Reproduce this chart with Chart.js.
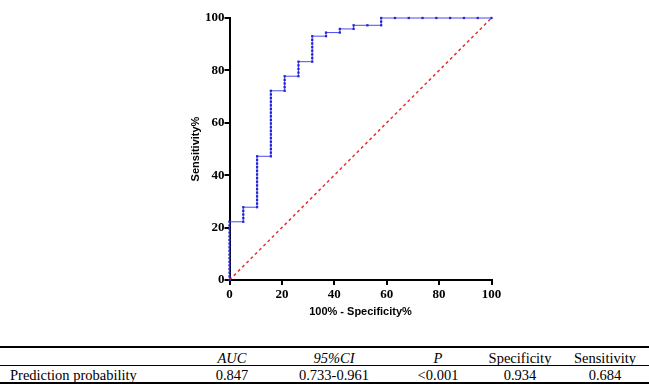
<!DOCTYPE html>
<html>
<head>
<meta charset="utf-8">
<script src="https://cdn.jsdelivr.net/npm/chart.js@4/dist/chart.umd.min.js"></script>
<style>
  html, body { margin:0; padding:0; background:#fff; }
  #wrap { position:relative; width:649px; height:384px; overflow:hidden; }
  #c { position:absolute; left:0; top:0; }
  .ln { position:absolute; left:0; width:649px; background:#000; }
  .t { position:absolute; font-family:"Liberation Serif","Times New Roman",serif; font-size:14.5px; color:#000; white-space:nowrap; line-height:16px; }
  .ctr { transform:translateX(-50%); }
  .it { font-style:italic; }
</style>
</head>
<body>
<div id="wrap">
  <canvas id="c" width="649" height="330"></canvas>
  <div class="ln" style="top:346px;height:2px;"></div>
  <div class="ln" style="top:365px;height:1px;"></div>
  <div class="ln" style="top:382px;height:2px;"></div>
  <div id="tbl"></div>
</div>
<script>
// ROC curve points (100% - Specificity%, Sensitivity%)
const fpr = [
  0,0,0,0,0,0,0,0,0,0,0,0,0,0,0,0,0,
  5.26,5.26,5.26,5.26,5.26,
  10.53,10.53,10.53,10.53,10.53,10.53,10.53,10.53,10.53,10.53,10.53,10.53,10.53,10.53,10.53,
  15.79,15.79,15.79,15.79,15.79,15.79,15.79,15.79,15.79,15.79,15.79,15.79,15.79,15.79,15.79,15.79,15.79,15.79,15.79,
  21.05,21.05,21.05,21.05,21.05,
  26.32,26.32,26.32,26.32,26.32,
  31.58,31.58,31.58,31.58,31.58,31.58,31.58,31.58,
  36.84,36.84,
  42.11,42.11,
  47.37,47.37,
  52.63,
  57.89,57.89,57.89,
  63.16,68.42,73.68,78.95,84.21,89.47,94.74,100
];
const tpr = [
  0,1.39,2.78,4.17,5.56,6.94,8.33,9.72,11.11,12.5,13.89,15.28,16.67,18.06,19.44,20.83,22.22,
  22.22,23.61,25,26.39,27.78,
  27.78,29.17,30.56,31.94,33.33,34.72,36.11,37.5,38.89,40.28,41.67,43.06,44.44,45.83,47.22,
  47.22,48.61,50,51.39,52.78,54.17,55.56,56.94,58.33,59.72,61.11,62.5,63.89,65.28,66.67,68.06,69.44,70.83,72.22,
  72.22,73.61,75,76.39,77.78,
  77.78,79.17,80.56,81.94,83.33,
  83.33,84.72,86.11,87.5,88.89,90.28,91.67,93.06,
  93.06,94.44,
  94.44,95.83,
  95.83,97.22,
  97.22,
  97.22,98.61,100,
  100,100,100,100,100,100,100,100
];
const refX = [0, 100];
const refY = [0, 100];
const xTicks = [0, 20, 40, 60, 80, 100];
const yTicks = [0, 20, 40, 60, 80, 100];
const xTitle = "100% - Specificity%";
const yTitle = "Sensitivity%";

// Table
const tableHeaders = ["", "AUC", "95%CI", "P", "Specificity", "Sensitivity"];
const headerItalic = [false, true, true, true, false, false];
const tableRow = ["Prediction probability", "0.847", "0.733-0.961", "<0.001", "0.934", "0.684"];
const colCenters = [null, 232, 334, 438, 520, 605];

const tbl = document.getElementById('tbl');
tableHeaders.forEach((h, i) => {
  if (!h) return;
  const d = document.createElement('div');
  d.className = 't ctr' + (headerItalic[i] ? ' it' : '');
  d.style.left = colCenters[i] + 'px';
  d.style.top = '350px';
  d.textContent = h;
  tbl.appendChild(d);
});
tableRow.forEach((v, i) => {
  const d = document.createElement('div');
  d.className = 't' + (i ? ' ctr' : '');
  d.style.left = (i ? colCenters[i] : 10) + 'px';
  d.style.top = '367px';
  d.textContent = v;
  tbl.appendChild(d);
});

const tickFont = { family: "Liberation Serif", size: 13, weight: 'bold' };
const titleFont = { family: "Liberation Sans", size: 11, weight: 'bold' };

new Chart(document.getElementById('c'), {
  type: 'scatter',
  data: {
    datasets: [
      {
        data: fpr.map((x, i) => ({ x: x, y: tpr[i] })),
        showLine: true,
        borderColor: '#4a4af0',
        borderWidth: 1,
        pointStyle: 'rect',
        pointRadius: 1.6,
        pointBackgroundColor: '#2323d6',
        pointBorderColor: '#2323d6',
        pointBorderWidth: 0,
        clip: false,
        order: 1
      },
      {
        data: refX.map((x, i) => ({ x: x, y: refY[i] })),
        showLine: true,
        borderColor: '#e0332f',
        borderWidth: 1.5,
        borderDash: [3, 3],
        pointRadius: 0,
        clip: false,
        order: 2
      }
    ]
  },
  options: {
    responsive: false,
    animation: false,
    layout: { padding: { left: 185.5, right: 157.5, top: 18, bottom: 7 } },
    plugins: { legend: { display: false }, tooltip: { enabled: false } },
    scales: {
      x: {
        type: 'linear', min: 0, max: 100,
        afterBuildTicks: s => { s.ticks = xTicks.map(v => ({ value: v })); },
        afterFit: s => { s.height = 43; },
        border: { display: true, color: '#000', width: 2 },
        grid: { display: true, drawOnChartArea: false, drawTicks: true, tickLength: 5, color: '#000', lineWidth: 2 },
        ticks: { font: tickFont, color: '#000', padding: 2, maxRotation: 0 },
        title: { display: true, text: xTitle, font: titleFont, color: '#000', padding: { top: 0, bottom: 4 } }
      },
      y: {
        type: 'linear', min: 0, max: 100,
        afterBuildTicks: s => { s.ticks = yTicks.map(v => ({ value: v })); },
        afterFit: s => { s.width = 44; },
        border: { display: true, color: '#000', width: 2 },
        grid: { display: true, drawOnChartArea: false, drawTicks: true, tickLength: 5, color: '#000', lineWidth: 2 },
        ticks: { font: tickFont, color: '#000', padding: 0 },
        title: { display: true, text: yTitle, font: titleFont, color: '#000', padding: { top: 4, bottom: 0 } }
      }
    }
  }
});
</script>
</body>
</html>
